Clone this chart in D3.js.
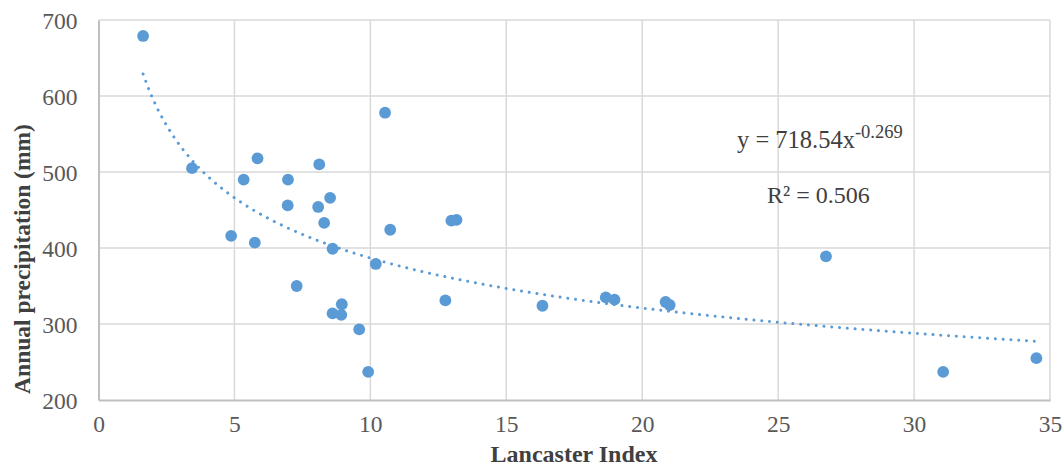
<!DOCTYPE html>
<html>
<head>
<meta charset="utf-8">
<script src="https://cdn.jsdelivr.net/npm/d3@7"></script>
<style>
  body { margin: 0; background: #fff; }
  svg text { font-family: "Liberation Serif", "Times New Roman", serif; }
</style>
</head>
<body>
<svg id="chart" width="1062" height="466"></svg>
<script>
// dados
var lancasterIndex = [1.64, 3.44, 5.85, 8.12, 5.34, 6.97, 8.52, 6.96, 8.08, 8.30, 10.73,
  4.88, 5.75, 8.61, 10.20, 7.29, 8.95, 8.61, 8.93, 9.59, 9.92, 10.54, 12.98, 13.17,
  12.76, 16.33, 18.66, 18.98, 20.86, 21.01, 26.76, 31.07, 34.50];
var precipitation = [679, 505, 518, 510, 490, 490, 466, 456, 454, 433, 424,
  416, 407, 399, 379, 350, 326, 314, 312, 293, 237, 578, 436, 437,
  331, 324, 335, 332, 329, 325, 389, 237, 255];
var xTicks = [0, 5, 10, 15, 20, 25, 30, 35];
var yTicks = [200, 300, 400, 500, 600, 700];
// linha de tendência (potência)
var trendA = 718.54, trendB = -0.269;
var equationText = "y = 718.54x", equationExp = "-0.269", r2Text = "R² = 0.506";

var svg = d3.select("#chart");
var x = d3.scaleLinear().domain([0, 35]).range([98.5, 1050]);
var y = d3.scaleLinear().domain([200, 700]).range([400, 20]);

// grade
svg.append("g").selectAll("line").data(xTicks.slice(1)).enter().append("line")
  .attr("x1", function (d) { return x(d); }).attr("x2", function (d) { return x(d); })
  .attr("y1", y(700)).attr("y2", y(200))
  .attr("stroke", "#d9d9d9").attr("stroke-width", 1.5);
svg.append("g").selectAll("line").data(yTicks.slice(1)).enter().append("line")
  .attr("x1", x(0)).attr("x2", x(35))
  .attr("y1", function (d) { return y(d); }).attr("y2", function (d) { return y(d); })
  .attr("stroke", "#d9d9d9").attr("stroke-width", 1.5);

// eixos
var xAxis = svg.append("g").attr("transform", "translate(0," + y(200) + ")")
  .call(d3.axisBottom(x).tickValues(xTicks).tickSize(0).tickPadding(15));
var yAxis = svg.append("g").attr("transform", "translate(" + x(0) + ",0)")
  .call(d3.axisLeft(y).tickValues(yTicks).tickSize(0).tickPadding(21));
[xAxis, yAxis].forEach(function (g) {
  g.select(".domain").attr("stroke", "#bfbfbf").attr("stroke-width", 2);
  g.selectAll("text").attr("font-size", 23.5).attr("fill", "#595959")
    .attr("font-family", "Liberation Serif, serif");
});
yAxis.selectAll("text").attr("dy", "0.34em");

// linha de tendência pontilhada
var trendX = d3.range(d3.min(lancasterIndex), d3.max(lancasterIndex), 0.05).concat([d3.max(lancasterIndex)]);
svg.append("path")
  .datum(trendX)
  .attr("fill", "none")
  .attr("stroke", "#5b9bd5")
  .attr("stroke-width", 3)
  .attr("stroke-linecap", "round")
  .attr("stroke-dasharray", "0.01 7.8")
  .attr("d", d3.line()
    .x(function (d) { return x(d); })
    .y(function (d) { return y(trendA * Math.pow(d, trendB)); }));

// pontos
svg.append("g").selectAll("circle")
  .data(d3.range(lancasterIndex.length))
  .enter()
  .append("circle")
  .attr("cx", function (i) { return x(lancasterIndex[i]); })
  .attr("cy", function (i) { return y(precipitation[i]); })
  .attr("r", 5.9)
  .attr("fill", "#5b9bd5");

// equação e R²
var eq = svg.append("text").attr("x", 737).attr("y", 148)
  .attr("font-size", 24.5).attr("fill", "#404040");
eq.append("tspan").text(equationText);
eq.append("tspan").attr("dy", -10).attr("font-size", 18.5).text(equationExp);
svg.append("text").attr("x", 767).attr("y", 203)
  .attr("font-size", 24).attr("fill", "#404040").text(r2Text);

// títulos dos eixos
svg.append("text")
  .attr("x", 574).attr("y", 462)
  .attr("text-anchor", "middle")
  .attr("font-size", 24).attr("font-weight", "bold").attr("fill", "#404040")
  .text("Lancaster Index");
svg.append("text")
  .attr("transform", "translate(30,259) rotate(-90)")
  .attr("text-anchor", "middle")
  .attr("font-size", 23.5).attr("font-weight", "bold").attr("fill", "#404040")
  .text("Annual precipitation (mm)");
</script>
</body>
</html>
